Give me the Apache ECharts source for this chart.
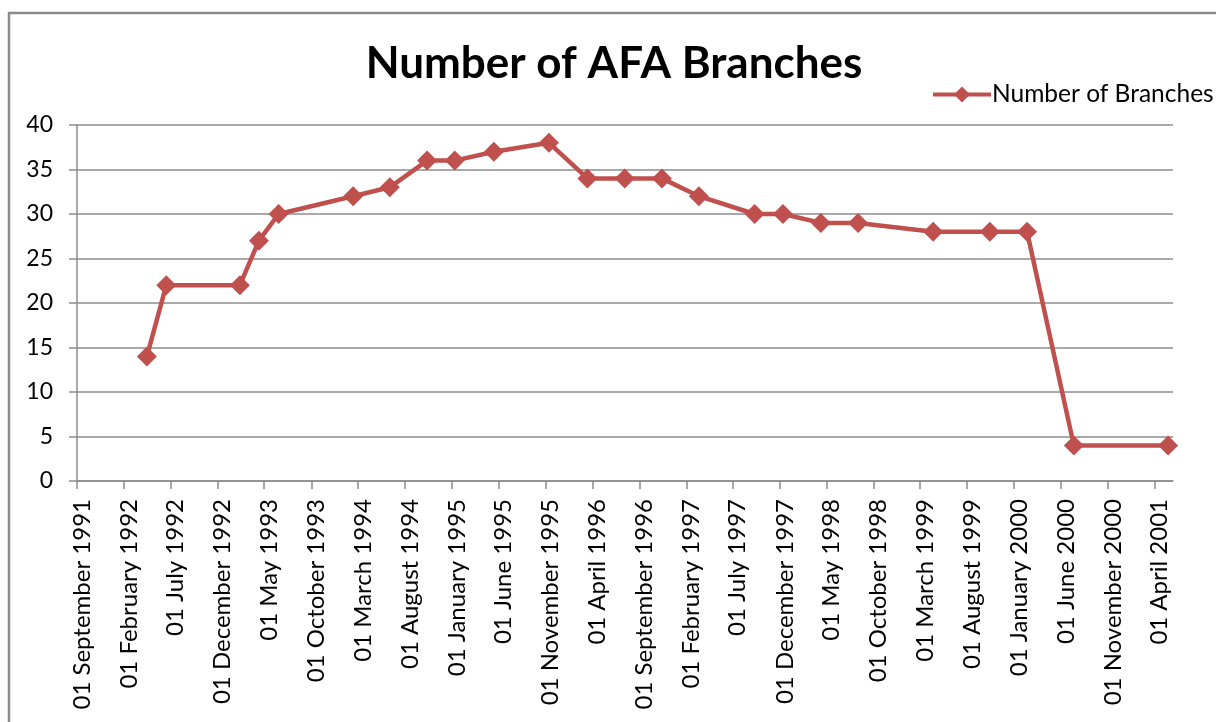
<!DOCTYPE html>
<html>
<head>
<meta charset="utf-8">
<script src="https://cdn.jsdelivr.net/npm/echarts@6/dist/echarts.min.js"></script>
<style>
html,body{margin:0;padding:0;background:#fff;}
#main{width:1216px;height:722px;}
</style>
</head>
<body>
<div id="main"></div>
<script>
// ---- Data ----
const titleText = 'Number of AFA Branches';
const seriesName = 'Number of Branches';
const dates = [
  '1992-04-15','1992-06-17','1993-02-11','1993-04-14','1993-06-17',
  '1994-02-14','1994-06-13','1994-10-12','1995-01-10','1995-05-17',
  '1995-11-12','1996-03-16','1996-07-15','1996-11-13','1997-03-13',
  '1997-09-10','1997-12-11','1998-04-13','1998-08-12','1999-04-13',
  '1999-10-14','2000-02-12','2000-07-13','2001-05-15'
];
const branches = [
  14, 22, 22, 27, 30,
  32, 33, 36, 36, 37,
  38, 34, 34, 34, 32,
  30, 30, 29, 29, 28,
  28, 28, 4, 4
];
const tickDates = [
  '1991-09-01','1992-02-01','1992-07-01','1992-12-01','1993-05-01','1993-10-01',
  '1994-03-01','1994-08-01','1995-01-01','1995-06-01','1995-11-01','1996-04-01',
  '1996-09-01','1997-02-01','1997-07-01','1997-12-01','1998-05-01','1998-10-01',
  '1999-03-01','1999-08-01','2000-01-01','2000-06-01','2000-11-01','2001-04-01'
];
const tickLabels = [
  '01 September 1991','01 February 1992','01 July 1992','01 December 1992','01 May 1993','01 October 1993',
  '01 March 1994','01 August 1994','01 January 1995','01 June 1995','01 November 1995','01 April 1996',
  '01 September 1996','01 February 1997','01 July 1997','01 December 1997','01 May 1998','01 October 1998',
  '01 March 1999','01 August 1999','01 January 2000','01 June 2000','01 November 2000','01 April 2001'
];
const xMinDate = '1991-09-01';
const xMaxDate = '2001-05-31';

// ---- Build ----
const ts = s => Date.parse(s + 'T00:00:00Z');
const tickValues = tickDates.map(ts);
const labelMap = {};
tickValues.forEach((v, i) => { labelMap[v] = tickLabels[i]; });
const seriesData = dates.map((d, i) => [ts(d), branches[i]]);

const FONT = 'Lato';
const RED = '#C0504D';
const chart = echarts.init(document.getElementById('main'), null, {renderer: 'canvas'});
chart.setOption({
  backgroundColor: '#ffffff',
  animation: false,
  graphic: [{
    type: 'rect',
    shape: {x: 9, y: 13, width: 1400, height: 900},
    style: {fill: 'none', stroke: '#8a8a8a', lineWidth: 2.5},
    silent: true
  }],
  title: {
    text: titleText,
    left: 609,
    textAlign: 'center',
    top: 37,
    textStyle: {fontFamily: FONT, fontWeight: 'bold', fontSize: 44, color: '#000'}
  },
  legend: {
    left: 926,
    top: 77,
    itemWidth: 58,
    itemHeight: 20,
    itemGap: 4,
    lineStyle: {width: 4},
    textStyle: {fontFamily: FONT, fontSize: 24.5, color: '#000', padding: [0,0,0,-4]},
    data: [seriesName]
  },
  grid: {left: 77, right: 43, top: 125, bottom: 241, containLabel: false},
  xAxis: {
    type: 'value',
    min: ts(xMinDate),
    max: ts(xMaxDate),
    axisLine: {show: true, lineStyle: {color: '#8c8c8c', width: 1.5}},
    axisTick: {show: true, length: 8, customValues: tickValues, lineStyle: {color: '#8c8c8c', width: 1.5}},
    axisLabel: {
      customValues: tickValues,
      rotate: 90,
      margin: 18,
      fontFamily: FONT,
      fontSize: 24,
      color: '#000',
      formatter: v => '{s|' + (labelMap[v] || '') + '}',
      rich: {
        s: {fontFamily: FONT, fontSize: 24, color: '#000', padding: [10, 0, 0, 0]}
      }
    },
    splitLine: {show: false}
  },
  yAxis: {
    type: 'value',
    min: 0,
    max: 40,
    interval: 5,
    axisLine: {show: true, lineStyle: {color: '#8c8c8c', width: 1.5}},
    axisTick: {show: true, length: 8, lineStyle: {color: '#8c8c8c', width: 1.5}},
    axisLabel: {margin: 24, fontFamily: FONT, fontSize: 23, color: '#000'},
    splitLine: {show: true, lineStyle: {color: '#8c8c8c', width: 1.5}}
  },
  series: [{
    name: seriesName,
    type: 'line',
    data: seriesData,
    symbol: 'diamond',
    symbolSize: 20,
    showAllSymbol: true,
    lineStyle: {color: RED, width: 4.5},
    itemStyle: {color: RED}
  }]
});
</script>
</body>
</html>
